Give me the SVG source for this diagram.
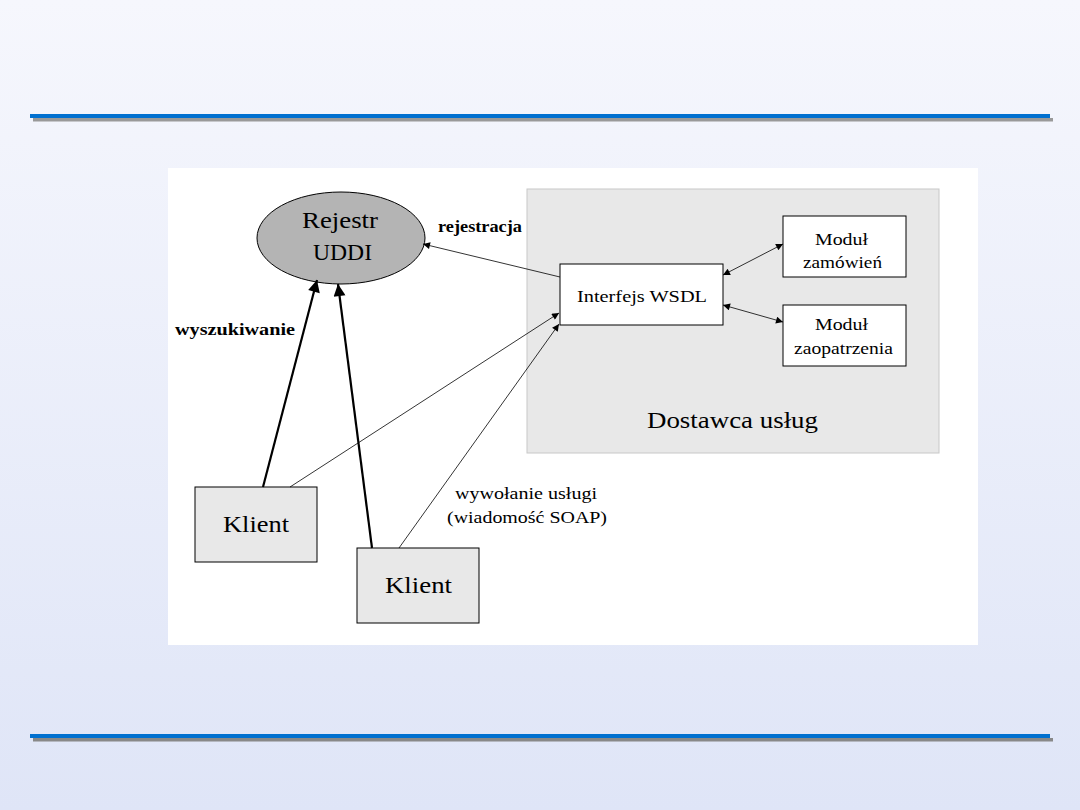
<svg xmlns="http://www.w3.org/2000/svg" width="1080" height="810" viewBox="0 0 1080 810">
<defs>
<linearGradient id="bg" x1="0" y1="0" x2="0" y2="1">
<stop offset="0" stop-color="#f6f7fd"/>
<stop offset="1" stop-color="#dfe5f7"/>
</linearGradient>
<marker id="ah" viewBox="0 0 10 10" refX="10" refY="5" markerWidth="10" markerHeight="7" markerUnits="userSpaceOnUse" orient="auto-start-reverse">
<path d="M0,0 L10,5 L0,10 z" fill="#000"/>
</marker>
<marker id="ahb" viewBox="0 0 10 10" refX="10" refY="5" markerWidth="16" markerHeight="12" markerUnits="userSpaceOnUse" orient="auto">
<path d="M0,0 L10,5 L0,10 z" fill="#000"/>
</marker>
</defs>
<style>
text{font-family:"Liberation Serif","DejaVu Serif",serif;fill:#000}
.big{font-size:24px}
.sm{font-size:17px}
.b{font-weight:bold}
.box{stroke:#000;stroke-width:1}
.thin{stroke:#000;stroke-width:0.8;fill:none}
.bold{stroke:#000;stroke-width:2.2;fill:none}
</style>
<rect width="1080" height="810" fill="url(#bg)"/>
<rect x="33" y="118" width="1020" height="3.5" fill="#999"/>
<rect x="30" y="114" width="1020" height="4" fill="#0070d0"/>
<rect x="33" y="738" width="1020" height="3.5" fill="#888"/>
<rect x="30" y="734" width="1020" height="4" fill="#0070d0"/>
<rect x="168" y="168" width="810" height="477" fill="#fff"/>
<g id="dostawca">
<rect x="527" y="189" width="412" height="264" fill="#e8e8e8" stroke="#c8c8c8"/>
<text class="big" x="647" y="428" textLength="171" lengthAdjust="spacingAndGlyphs">Dostawca usług</text>
</g>
<g id="uddi">
<ellipse cx="341" cy="238" rx="84" ry="46" fill="#b4b4b4" stroke="#000"/>
<text class="big" x="302" y="228" textLength="76" lengthAdjust="spacingAndGlyphs">Rejestr</text>
<text class="big" x="313" y="260" textLength="59" lengthAdjust="spacingAndGlyphs">UDDI</text>
</g>
<g id="wsdl">
<rect class="box" x="560" y="264" width="163" height="61" fill="#fff"/>
<text class="sm" x="577" y="302" textLength="130" lengthAdjust="spacingAndGlyphs">Interfejs WSDL</text>
</g>
<g id="zamowien">
<rect class="box" x="783" y="216" width="123" height="61" fill="#fff"/>
<text class="sm" x="815" y="245" textLength="53" lengthAdjust="spacingAndGlyphs">Moduł</text>
<text class="sm" x="803" y="268" textLength="79" lengthAdjust="spacingAndGlyphs">zamówień</text>
</g>
<g id="zaopatrzenia">
<rect class="box" x="783" y="305" width="123" height="61" fill="#fff"/>
<text class="sm" x="815" y="330" textLength="53" lengthAdjust="spacingAndGlyphs">Moduł</text>
<text class="sm" x="794" y="354" textLength="99" lengthAdjust="spacingAndGlyphs">zaopatrzenia</text>
</g>
<g id="klient1">
<rect class="box" x="195" y="487" width="122" height="75" fill="#e8e8e8"/>
<text class="big" x="223" y="532" textLength="66" lengthAdjust="spacingAndGlyphs">Klient</text>
</g>
<g id="klient2">
<rect class="box" x="357" y="548" width="122" height="75" fill="#e8e8e8"/>
<text class="big" x="385" y="593" textLength="67" lengthAdjust="spacingAndGlyphs">Klient</text>
</g>
<g id="connectors">
<line class="thin" x1="560" y1="277" x2="423" y2="244" marker-end="url(#ah)"/>
<line class="bold" x1="263" y1="487" x2="317" y2="280" marker-end="url(#ahb)"/>
<line class="bold" x1="372" y1="548" x2="338" y2="284" marker-end="url(#ahb)"/>
<line class="thin" x1="290" y1="487" x2="559" y2="313" marker-end="url(#ah)"/>
<line class="thin" x1="399" y1="548" x2="559" y2="324" marker-end="url(#ah)"/>
<line class="thin" x1="723" y1="275" x2="783" y2="244" marker-start="url(#ah)" marker-end="url(#ah)"/>
<line class="thin" x1="723" y1="305" x2="783" y2="322" marker-start="url(#ah)" marker-end="url(#ah)"/>
</g>
<g id="labels">
<text class="sm b" x="438" y="232" textLength="84" lengthAdjust="spacingAndGlyphs">rejestracja</text>
<text class="sm b" x="175" y="335" textLength="120" lengthAdjust="spacingAndGlyphs">wyszukiwanie</text>
<text class="sm" x="455" y="499" textLength="142" lengthAdjust="spacingAndGlyphs">wywołanie usługi</text>
<text class="sm" x="447" y="523" textLength="160" lengthAdjust="spacingAndGlyphs">(wiadomość SOAP)</text>
</g>
</svg>
